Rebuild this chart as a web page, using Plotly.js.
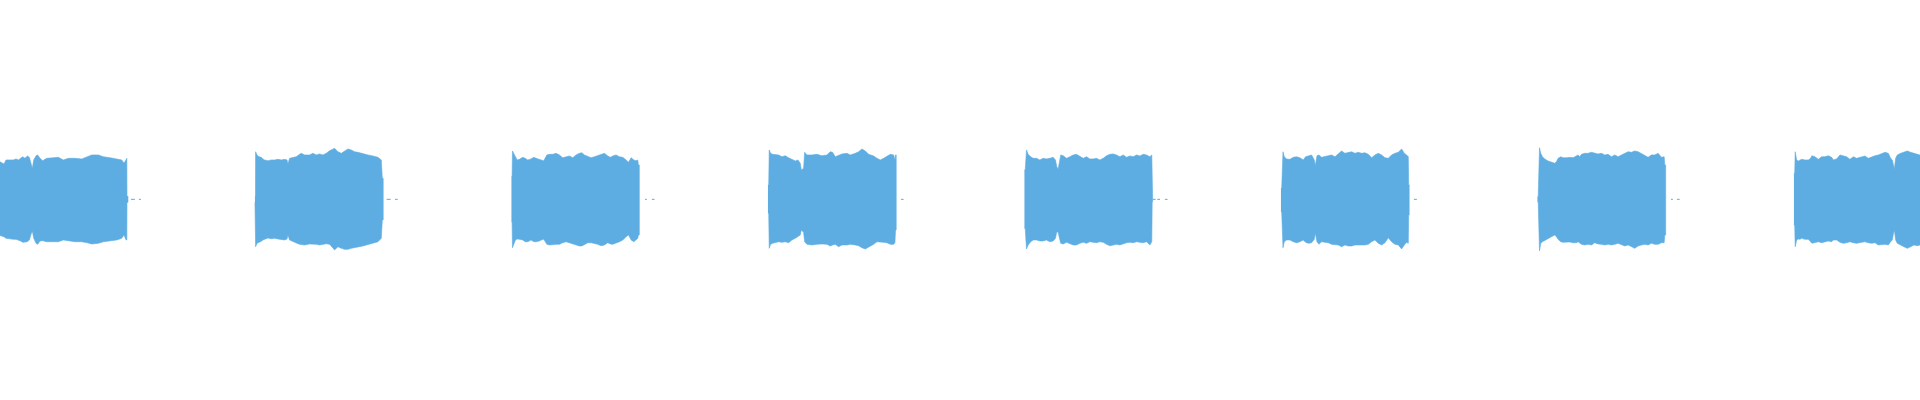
<!DOCTYPE html>
<html>
<head>
<meta charset="utf-8">
<script src="https://cdn.plot.ly/plotly-3.0.1.min.js"></script>
<style>html,body{margin:0;padding:0;background:#fff;}#chart{width:1920px;height:400px;}</style>
</head>
<body>
<div id="chart"></div>
<script>
// Tone bursts: start time (s) of each 1-second burst
const burstStart = [0, 2, 4, 6, 8, 10, 12, 14];

// Envelope per burst: time offset (ms), upper and lower peak amplitude (% of full scale)
const t1 = [0,12,43,59,116,137,155,173,189,207,225,241,254,264,275,293,306,324,345,376,428,467,506,545,597,649,693,727,779,818,870,922,961,979,995,1001,1002,1010];
const hi1 = [18.8,18.8,17.7,19.7,19.7,20.2,19.7,20.8,21.3,20.5,21.7,21.0,17.2,15.5,19.7,21.8,22.2,20.5,19.3,20.5,20.8,21.0,19.7,20.5,20.5,20.2,21.3,22.2,22.2,21.3,20.8,20.2,19.7,18.0,20.5,20.5,1.5,1.5];
const lo1 = [-17.8,-17.8,-18.7,-19.5,-20.0,-20.0,-20.3,-20.8,-21.5,-21.2,-21.2,-20.3,-17.5,-15.8,-19.5,-22.0,-22.5,-20.8,-20.7,-21.2,-21.2,-21.2,-20.3,-20.8,-21.2,-21.2,-21.7,-22.3,-22.0,-21.2,-20.8,-20.3,-19.5,-17.8,-20.3,-20.3,-1.5,-1.5];

const t2 = [0,4,5,16,31,49,62,75,101,127,153,179,205,231,250,257,270,296,322,348,361,387,426,452,478,504,530,556,582,621,647,673,699,725,751,777,803,842,881,920,959,985,993,1000];
const hi2 = [1.5,1.5,23.8,22.2,21.3,21.0,20.2,19.7,19.3,19.7,19.7,20.0,19.7,20.0,19.7,17.7,20.5,20.8,21.3,22.5,23.0,22.2,22.2,23.0,22.2,22.7,22.2,23.0,24.3,25.5,23.8,23.0,24.3,25.2,24.7,23.8,23.5,22.7,22.2,21.7,21.0,19.7,10.5,10.5];
const lo2 = [-1.5,-1.5,-23.7,-22.0,-21.5,-21.0,-20.3,-19.8,-19.3,-19.7,-19.5,-19.8,-20.2,-20.3,-19.8,-17.8,-20.3,-21.2,-21.8,-22.5,-22.8,-22.8,-22.3,-22.3,-22.5,-22.8,-22.5,-22.2,-22.5,-25.3,-23.7,-24.5,-25.0,-25.0,-24.5,-24.0,-23.8,-23.3,-22.5,-22.0,-21.2,-19.5,-10.3,-10.3];

const t3 = [0,5,8,18,31,44,62,88,107,127,153,174,192,218,231,252,263,276,296,322,348,374,400,426,452,478,504,530,549,569,595,621,647,673,699,725,751,772,790,816,842,868,894,913,933,954,972,985,990,997];
const hi3 = [11.3,11.3,24.2,23.0,21.3,19.7,20.0,21.0,20.5,19.7,20.2,21.0,20.5,20.2,19.7,19.3,20.5,22.2,22.5,22.5,23.0,22.2,20.8,21.3,21.7,20.8,22.2,23.0,23.3,22.2,21.3,20.8,21.3,21.8,22.5,23.0,21.7,21.0,21.7,22.2,21.3,21.0,19.7,18.5,20.8,19.7,19.3,19.7,17.2,17.2];
const lo3 = [-11.2,-11.2,-24.2,-22.5,-20.3,-19.8,-20.0,-20.3,-21.2,-21.2,-20.3,-21.2,-21.2,-20.8,-20.3,-20.0,-21.2,-22.5,-22.8,-22.8,-22.5,-22.5,-21.7,-21.2,-21.7,-22.0,-22.8,-23.3,-23.3,-22.5,-21.7,-21.7,-22.0,-22.5,-23.2,-22.8,-21.7,-22.3,-22.5,-21.7,-21.2,-20.3,-18.7,-17.8,-20.3,-21.2,-20.3,-19.5,-17.8,-17.8];

const t4 = [0,6,10,21,36,57,83,109,135,161,187,213,234,252,260,278,286,304,343,382,421,460,486,504,525,551,577,616,642,681,707,733,759,785,824,850,876,902,928,954,980,990,995,1000];
const hi4 = [7.2,7.2,24.7,23.0,22.5,22.2,22.2,21.3,21.8,20.8,20.2,19.2,19.7,18.0,14.7,15.5,23.5,22.2,22.2,22.5,21.8,22.2,23.8,23.5,21.3,22.2,22.7,23.0,22.2,23.0,23.8,25.2,24.2,22.5,21.7,20.5,19.7,20.5,21.3,22.5,22.2,19.7,22.2,22.2];
const lo4 = [-7.0,-7.0,-24.5,-22.5,-22.0,-21.5,-21.2,-21.5,-21.2,-21.7,-20.3,-19.5,-18.7,-17.8,-15.3,-16.5,-21.2,-22.5,-22.8,-22.5,-22.3,-22.5,-23.3,-22.8,-22.5,-23.7,-22.8,-22.8,-22.5,-22.8,-23.2,-24.2,-24.8,-23.7,-22.5,-21.2,-21.2,-21.5,-21.7,-22.5,-22.5,-21.7,-15.3,-15.3];

const t5 = [0,6,16,29,49,68,94,120,146,172,198,224,242,252,263,273,283,302,328,354,380,406,432,458,484,510,536,562,588,614,640,666,692,718,744,770,796,822,848,874,900,926,952,978,993,996,1000];
const hi5 = [14.7,14.7,24.7,22.5,21.3,20.5,20.5,19.7,20.5,20.2,20.5,21.0,19.7,16.3,15.2,19.7,22.2,21.8,20.5,21.3,22.2,22.5,21.3,20.5,21.3,20.2,20.2,20.5,19.7,20.5,21.8,22.5,22.7,22.2,21.3,22.2,21.0,21.7,21.3,22.2,21.7,22.5,22.2,21.3,22.2,0.5,0.5];
const lo5 = [-14.5,-14.5,-24.8,-22.8,-21.2,-20.3,-20.3,-20.8,-20.8,-20.3,-21.2,-20.8,-19.5,-16.2,-16.5,-19.5,-22.0,-22.3,-21.5,-22.0,-22.8,-22.8,-22.0,-21.5,-22.0,-21.2,-21.5,-21.7,-21.2,-21.5,-22.5,-23.2,-22.8,-22.5,-22.8,-22.3,-21.7,-21.5,-21.7,-21.2,-21.5,-21.7,-21.2,-22.8,-21.2,-1.2,-1.2];

const t6 = [0,6,16,26,44,70,96,122,148,174,192,213,239,260,268,281,296,317,343,369,395,421,447,473,499,525,551,577,603,629,655,681,707,733,759,785,811,837,863,889,915,941,962,980,993,996,1000];
const hi6 = [5.5,5.5,23.8,21.3,20.2,20.0,21.0,21.3,20.8,19.7,21.3,21.8,22.2,19.7,16.8,21.8,22.2,21.0,21.3,21.8,22.2,21.3,23.0,24.2,23.0,23.5,23.8,23.0,23.5,23.0,23.3,22.5,20.8,22.2,23.0,22.2,20.8,20.5,22.2,23.0,23.5,25.2,23.0,22.2,21.3,7.2,7.2];
const lo6 = [-6.2,-6.2,-24.2,-21.2,-20.3,-20.3,-21.2,-21.7,-21.2,-20.3,-21.5,-22.0,-21.7,-20.0,-17.0,-21.2,-22.5,-21.2,-21.5,-21.7,-22.5,-22.8,-22.8,-23.7,-22.8,-23.3,-23.3,-22.8,-22.5,-22.8,-22.8,-22.5,-21.2,-20.3,-22.0,-22.8,-21.7,-19.2,-21.2,-22.5,-22.8,-24.8,-22.8,-21.5,-22.0,-7.8,-7.8];

const t7 = [0,6,16,26,39,57,83,109,135,148,161,182,200,226,252,278,304,317,330,343,369,395,421,447,473,499,525,551,577,603,629,655,681,707,733,759,785,811,837,863,889,915,941,967,988,993,1000];
const hi7 = [1.3,1.3,25.8,23.0,21.3,20.2,19.2,18.5,18.0,18.8,20.5,21.3,20.8,20.8,21.0,20.8,21.8,22.2,21.3,22.5,23.0,23.0,23.5,23.0,22.7,23.0,22.2,22.5,21.3,22.2,21.3,22.2,23.0,23.8,23.5,24.2,23.8,23.0,22.2,21.0,22.2,22.2,23.0,21.0,21.3,17.2,17.2];
const lo7 = [-1.2,-1.2,-25.8,-22.0,-21.2,-20.3,-19.5,-18.7,-17.8,-18.7,-20.0,-21.2,-21.5,-21.5,-21.3,-21.7,-21.7,-21.2,-22.0,-22.5,-22.8,-22.5,-22.8,-21.7,-22.3,-22.5,-22.8,-22.5,-22.8,-22.5,-22.0,-22.8,-23.3,-22.8,-23.7,-24.5,-23.3,-22.8,-22.5,-22.8,-22.0,-22.5,-22.5,-21.7,-21.7,-17.8,-17.8];

const t8 = [0,6,10,21,34,47,60,86,112,130,140,164,190,216,242,268,294,307,333,359,385,411,437,463,489,528,554,580,606,632,658,684,710,736,754,767,775,783,793,806,832,858,884,910,936,962,983,1000];
const hi8 = [13.0,13.0,23.8,19.7,19.2,19.7,20.0,19.7,19.7,20.5,21.8,21.3,20.0,21.3,21.3,21.8,21.0,19.7,20.2,22.2,21.7,21.3,20.0,21.3,20.5,21.3,21.7,20.5,21.3,21.8,22.2,23.0,23.5,23.0,20.5,19.7,17.2,15.2,20.5,22.2,23.0,23.5,24.2,23.5,23.0,22.2,21.8,21.8];
const lo8 = [-12.8,-12.8,-23.7,-20.3,-19.8,-20.0,-19.5,-20.0,-20.0,-21.2,-22.0,-21.5,-21.2,-21.7,-21.2,-20.8,-21.2,-20.3,-20.3,-21.5,-22.0,-21.7,-21.2,-21.7,-22.0,-21.5,-21.2,-21.7,-22.0,-21.7,-22.8,-22.8,-22.5,-22.8,-21.2,-20.3,-17.5,-15.3,-20.3,-22.0,-22.8,-23.7,-24.5,-23.7,-22.8,-23.2,-22.8,-22.8];

// Low-level residual blips in the silent gaps (s)
const noiseStart = [1.033,1.095,3.027,3.092,5.041,5.095,7.037,9.002,9.036,9.095,11.037,13.041,13.088];
const noiseEnd   = [1.064,1.111,3.058,3.113,5.056,5.116,7.058,9.023,9.057,9.116,11.060,13.056,13.109];

const times = [t1,t2,t3,t4,t5,t6,t7,t8];
const highs = [hi1,hi2,hi3,hi4,hi5,hi6,hi7,hi8];
const lows  = [lo1,lo2,lo3,lo4,lo5,lo6,lo7,lo8];

const color = '#5dade2';
const traces = [];
burstStart.forEach((s, i) => {
  const t = times[i].map(ms => s + ms / 1000);
  const x = t.concat(t.slice().reverse());
  const y = highs[i].concat(lows[i].slice().reverse());
  traces.push({
    type: 'scatter', mode: 'lines', x: x, y: y,
    fill: 'toself', fillcolor: color,
    line: {width: 0.6, color: color}, hoverinfo: 'skip'
  });
});
const nx = [], ny = [];
noiseStart.forEach((a, i) => { nx.push(a, noiseEnd[i], null); ny.push(0, 0, null); });
traces.push({type: 'scatter', mode: 'lines', x: nx, y: ny, line: {width: 1, color: color}, hoverinfo: 'skip'});

const layout = {
  width: 1920, height: 400,
  margin: {l: 0, r: 0, t: 0, b: 0, pad: 0},
  paper_bgcolor: '#ffffff', plot_bgcolor: '#ffffff',
  showlegend: false,
  xaxis: {range: [0.012, 14.983], visible: false, showgrid: false, zeroline: false},
  yaxis: {range: [-100.33, 99.67], visible: false, showgrid: false, zeroline: false}
};
Plotly.newPlot('chart', traces, layout, {displayModeBar: false, staticPlot: true});
</script>
</body>
</html>
